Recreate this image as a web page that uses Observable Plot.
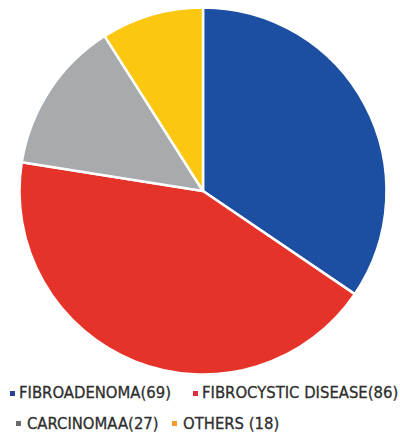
<!DOCTYPE html>
<html>
<head>
<meta charset="utf-8">
<script src="https://cdn.jsdelivr.net/npm/d3@7"></script>
<script src="https://cdn.jsdelivr.net/npm/@observablehq/plot@0.6"></script>
<style>
  html, body { margin: 0; padding: 0; background: #fff; }
  #wrap { position: relative; width: 400px; height: 438px; overflow: hidden; }
  #wrap svg { position: absolute; left: 0; top: 0; }
  .lg { position: absolute; font-family: "DejaVu Sans Condensed", "Liberation Sans", sans-serif; font-size: 16.5px; color: #2e2e2e; white-space: nowrap; line-height: 16px; -webkit-text-stroke: 0.3px #2e2e2e; }
  .sw { position: absolute; width: 5px; height: 5px; }
</style>
</head>
<body>
<div id="wrap"></div>
<script>
const categories = ["FIBROADENOMA", "FIBROCYSTIC DISEASE", "CARCINOMAA", "OTHERS"];
const values = [69, 86, 27, 18];
const labels = ["FIBROADENOMA(69)", "FIBROCYSTIC DISEASE(86)", "CARCINOMAA(27)", "OTHERS (18)"];
const sliceColors = ["#1c4fa1", "#e6332a", "#a7abae", "#fcc710"];
const swatchColors = ["#2b3f96", "#e0303a", "#6b6b6b", "#f39a2c"];

const data = categories.map((c, i) => ({name: c, value: values[i]}));

function pieMark(index, scales, vals, dimensions, context) {
  const cx = scales.x(0), cy = scales.y(0);
  const r = scales.x(1) - scales.x(0);
  const color = scales.color || d3.scaleOrdinal(categories, sliceColors);
  const arcs = d3.pie().sort(null).value(d => d.value)(data);
  const arc = d3.arc().innerRadius(0).outerRadius(r);
  const g = d3.create("svg:g").attr("transform", `translate(${cx},${cy})`);
  g.selectAll("path").data(arcs).join("path")
    .attr("d", arc)
    .attr("fill", d => color(d.data.name))
    .attr("stroke", "#fff")
    .attr("stroke-width", 2.5)
    .attr("stroke-linejoin", "round");
  return g.node();
}

const chart = Plot.plot({
  width: 400,
  height: 380,
  margin: 0,
  x: {domain: [-1, 1], range: [19.5, 386.5], axis: null},
  y: {domain: [-1, 1], range: [373, 9], axis: null},
  color: {domain: categories, range: sliceColors},
  marks: [
    Plot.dot([{x: 0, y: 0, name: categories[0]}], {x: "x", y: "y", fill: "name", r: 0}),
    pieMark
  ]
});
const wrap = document.getElementById("wrap");
wrap.appendChild(chart);

// legend
const pos = [
  {sx: 10, sy: 391, tx: 19, ty: 385},
  {sx: 193, sy: 391, tx: 202, ty: 385},
  {sx: 16, sy: 421, tx: 27, ty: 416},
  {sx: 172, sy: 421, tx: 183, ty: 416}
];
labels.forEach((t, i) => {
  const s = document.createElement("div");
  s.className = "sw";
  s.style.left = pos[i].sx + "px";
  s.style.top = pos[i].sy + "px";
  s.style.background = swatchColors[i];
  wrap.appendChild(s);
  const d = document.createElement("div");
  d.className = "lg";
  d.style.left = pos[i].tx + "px";
  d.style.top = pos[i].ty + "px";
  d.textContent = t;
  wrap.appendChild(d);
});
</script>
</body>
</html>
